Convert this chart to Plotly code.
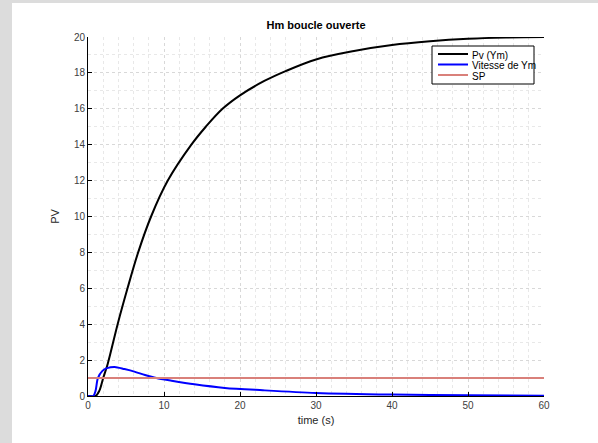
import plotly.graph_objects as go

# Data
t_pv = [0, 1.0, 1.5, 2.0, 2.6, 3.9, 5.2, 6.6, 8.3, 10.5, 13.6, 15.5, 17.7, 20, 23.2, 26, 30, 35, 40, 45, 50, 55, 60]
pv = [0, 0, 0.3, 1.0, 1.8, 4.0, 6.0, 8.0, 10.0, 12.0, 14.0, 15.0, 16.0, 16.75, 17.55, 18.1, 18.75, 19.22, 19.55, 19.76, 19.9, 19.97, 20.0]

t_vit = [0, 0.7, 1.0, 1.3, 1.9, 2.5, 3.5, 4.8, 6.1, 7.5, 9.0, 11, 14, 18, 23, 30, 40, 50, 60]
vit = [0, 0, 0.3, 1.0, 1.4, 1.55, 1.62, 1.5, 1.36, 1.17, 1.0, 0.85, 0.65, 0.45, 0.32, 0.17, 0.08, 0.04, 0.02]

t_sp = [0, 60]
sp = [1, 1]

names = ["Pv (Ym)", "Vitesse de Ym", "SP"]
colors = ["#000000", "#0000ff", "#d9807a"]

W, H = 598, 443
L, R, T, B = 88, 54, 37, 47
pw, ph = W - L - R, H - T - B


def px_x(px):
    return (px - L) / pw


def px_y(py):
    return (H - B - py) / ph


fig = go.Figure()
fig.add_trace(go.Scatter(x=t_pv, y=pv, mode="lines", name=names[0],
                         line=dict(color=colors[0], width=2, shape="spline", smoothing=1.0)))
fig.add_trace(go.Scatter(x=t_vit, y=vit, mode="lines", name=names[1],
                         line=dict(color=colors[1], width=2, shape="spline", smoothing=0.8)))
fig.add_trace(go.Scatter(x=t_sp, y=sp, mode="lines", name=names[2],
                         line=dict(color=colors[2], width=2)))

font = "Liberation Sans, Arial, Helvetica, sans-serif"
axis_common = dict(
    showline=True, linecolor="black", linewidth=1, mirror=False,
    ticks="inside", ticklen=4, tickcolor="black",
    showgrid=True, gridcolor="#d8d8d8", griddash="dot", gridwidth=1,
    zeroline=False,
    tickfont=dict(family=font, size=10, color="#404040"),
)

fig.update_xaxes(range=[0, 60], tick0=0, dtick=10,
                 minor=dict(dtick=2, showgrid=True, gridcolor="#e8e8e8", griddash="dot", ticks=""),
                 title=dict(text="time (s)", font=dict(family=font, size=11, color="#262626"), standoff=6),
                 **axis_common)
fig.update_yaxes(range=[0, 20], tick0=0, dtick=2,
                 minor=dict(dtick=1, showgrid=True, gridcolor="#e8e8e8", griddash="dot", ticks=""),
                 title=dict(text="PV", font=dict(family=font, size=11, color="#262626"), standoff=12),
                 **axis_common)

# grey frame bands (figure window edge)
shapes = [
    dict(type="rect", xref="paper", yref="paper",
         x0=px_x(0), x1=px_x(12), y0=px_y(H), y1=px_y(0),
         fillcolor="#dcdcdc", line=dict(width=0), layer="below"),
    dict(type="rect", xref="paper", yref="paper",
         x0=px_x(0), x1=px_x(W), y0=px_y(3), y1=px_y(0),
         fillcolor="#dcdcdc", line=dict(width=0), layer="below"),
    # legend box
    dict(type="rect", xref="paper", yref="paper",
         x0=px_x(432), x1=px_x(534), y0=px_y(84), y1=px_y(46),
         fillcolor="white", line=dict(color="black", width=1), layer="above"),
]
annotations = []
rows_y = [54, 64.5, 75]
for name, col, ry in zip(names, colors, rows_y):
    shapes.append(dict(type="line", xref="paper", yref="paper",
                       x0=px_x(438), x1=px_x(468), y0=px_y(ry), y1=px_y(ry),
                       line=dict(color=col, width=2), layer="above"))
    annotations.append(dict(xref="paper", yref="paper", x=px_x(470), y=px_y(ry + 1),
                            xanchor="left", yanchor="middle", showarrow=False,
                            text=name, font=dict(family=font, size=10, color="black")))

fig.update_layout(
    width=W, height=H,
    margin=dict(l=L, r=R, t=T, b=B),
    paper_bgcolor="white", plot_bgcolor="white",
    title=dict(text="<b>Hm boucle ouverte</b>", x=(L + pw / 2) / W, xanchor="center",
               y=1 - 25 / H, yanchor="middle",
               font=dict(family=font, size=11, color="black")),
    shapes=shapes,
    annotations=annotations,
    showlegend=False,
)

fig.write_html("out.html", config={"displayModeBar": False},
               post_script="document.body.style.margin='0';document.body.style.overflow='hidden';")
